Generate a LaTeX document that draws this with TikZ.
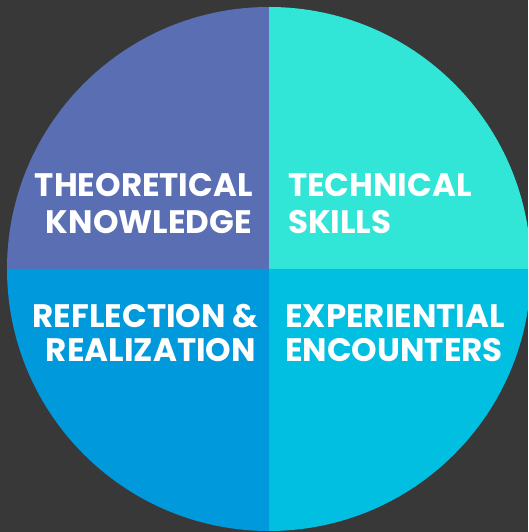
\documentclass[tikz,border=0pt]{standalone}
\usepackage{fontspec}
\setmainfont{Poppins}
\definecolor{bg}{HTML}{383838}
\definecolor{qtl}{HTML}{5A6EB4}
\definecolor{qtr}{HTML}{32E6D7}
\definecolor{qbl}{HTML}{0099DC}
\definecolor{qbr}{HTML}{00BFE1}
\tikzset{
  lbl/.style={text=white, inner sep=0pt, font=\bfseries\fontsize{32.5}{38}\selectfont},
}
\begin{document}
\begin{tikzpicture}[x=1pt,y=1pt]
\useasboundingbox (0,0) rectangle (528,532);
\clip (0,0) rectangle (528,532);
\fill[bg] (0,0) rectangle (528,532);
\coordinate (c) at (269,263);
\fill[qtl] (c) -- ++(180:262) arc[start angle=180, end angle=90, radius=262] -- cycle;
\fill[qtr] (c) -- ++(90:262) arc[start angle=90, end angle=0, radius=262] -- cycle;
\fill[qbr] (c) -- ++(0:262) arc[start angle=0, end angle=-90, radius=262] -- cycle;
\fill[qbl] (c) -- ++(-90:262) arc[start angle=-90, end angle=-180, radius=262] -- cycle;
\node[lbl, anchor=base east] (tl1) at (253,335) {THEORETICAL};
\node[lbl, anchor=base east] (tl2) at (252,298) {KNOWLEDGE};
\node[lbl, anchor=base west] (tr1) at (288,335) {TECHNICAL};
\node[lbl, anchor=base west] (tr2) at (288,298) {SKILLS};
\node[lbl, anchor=base east] (bl1) at (259,204) {REFLECTION \&};
\node[lbl, anchor=base east] (bl2) at (256,170) {REALIZATION};
\node[lbl, anchor=base west] (br1) at (285,204) {EXPERIENTIAL};
\node[lbl, anchor=base west] (br2) at (285,170) {ENCOUNTERS};
\end{tikzpicture}
\end{document}
